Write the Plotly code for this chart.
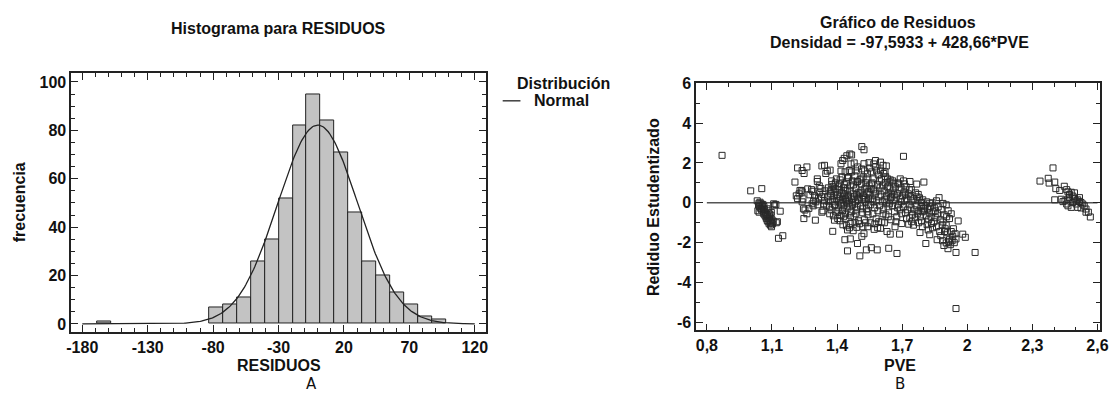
import math
import plotly.graph_objects as go

W, H = 1117, 394

# ---------------- Histogram of residuals ----------------
BIN_START = -168.3
BIN_WIDTH = 10.65
bin_counts = [1, 0, 0, 0, 0, 0, 0, 0, 7, 8, 11, 26, 35, 52, 82, 95, 84, 71,
              46, 26, 20, 13, 8, 3, 2]
resid_mean = 0.0
resid_sd = 30.5
hist_xticks = [-180, -130, -80, -30, 20, 70, 120]
hist_xticktext = ["-180", "-130", "-80", "-30", "20", "70", "120"]
hist_yticks = [0, 20, 40, 60, 80, 100]

# ---------------- Studentized residuals vs PVE ----------------
pve_res = [
    (0.870, 2.38),
    (1.002, 0.60), (1.053, 0.71), (1.032, 0.10), (1.040, -0.02), (1.045, 0.03),
    (1.050, -0.05), (1.038, -0.12), (1.043, -0.20), (1.048, -0.28), (1.035, -0.40),
    (1.041, -0.47), (1.052, -0.35), (1.055, -0.15), (1.058, -0.25), (1.060, -0.42),
    (1.062, -0.55), (1.065, -0.33), (1.067, -0.62), (1.070, -0.50), (1.072, -0.70),
    (1.074, -0.78), (1.076, -0.58), (1.078, -0.88), (1.080, -0.66), (1.082, -0.95),
    (1.085, -0.80), (1.087, -1.05), (1.089, -0.72), (1.091, -0.90), (1.093, -1.12),
    (1.095, -0.98), (1.098, -1.20), (1.100, -0.85), (1.103, -1.05), (1.106, -0.92),
    (1.108, -0.05), (1.112, -0.12), (1.118, -0.08), (1.120, -1.00), (1.125, -0.95),
    (1.138, -0.42), (1.130, -1.78), (1.150, -1.65), (1.058, -0.08), (1.063, -0.18),
    (1.083, -0.40), (1.077, -0.30), (1.088, -0.55), (1.095, -0.62), (1.097, -0.48),
    (1.206, 1.04), (1.218, 1.75), (1.212, 0.35), (1.218, 0.21), (1.225, 0.45),
    (1.229, 0.62), (1.239, 0.55), (1.239, 1.62), (1.248, 1.47), (1.239, 0.05),
    (1.245, -0.30), (1.252, -0.36), (1.247, -0.79), (1.235, 0.62), (1.243, 0.20),
    (1.261, 1.80), (1.261, -0.55), (1.270, -0.28), (1.282, 0.66), (1.288, 0.58),
    (1.292, 0.10), (1.300, -0.87), (1.296, 0.35), (1.275, 0.40), (1.285, -0.05),
    (1.265, 0.70), (1.290, -0.15),
    (1.302, 0.05), (1.309, 1.07), (1.309, 1.20), (1.320, 0.50), (1.330, 1.85),
    (1.330, -0.47), (1.335, 0.42), (1.342, 0.10), (1.342, 1.88), (1.348, 1.47),
    (1.315, 0.25), (1.325, 0.72), (1.338, -0.05), (1.345, 0.60), (1.312, -0.10),
    (1.328, 0.30), (1.335, -0.40), (1.318, 0.85),
    (1.355, 1.59), (1.368, 1.64), (1.373, 0.66), (1.376, 0.91), (1.380, -1.43),
    (1.388, -0.87), (1.358, 0.30), (1.362, 0.05), (1.365, -0.20), (1.370, 0.45),
    (1.372, -0.35), (1.378, 0.15), (1.382, 0.80), (1.385, 0.35), (1.388, -0.10),
    (1.390, 0.55), (1.392, 1.00), (1.395, -0.45), (1.398, 0.20), (1.360, 0.75),
    (1.366, -0.55), (1.375, 1.10), (1.383, -0.65), (1.394, 0.70), (1.352, -0.15),
    (1.397, 1.20), (1.386, 0.05), (1.368, 0.55),
    (1.403, -0.79), (1.418, 1.96), (1.426, 2.12), (1.433, 2.23), (1.445, 2.36),
    (1.418, 1.59), (1.448, 1.26), (1.433, 0.91), (1.418, -0.63), (1.436, -1.85),
    (1.448, -2.41), (1.448, -1.36), (1.402, 0.40), (1.405, 0.10), (1.408, -0.25),
    (1.410, 0.65), (1.412, 0.95), (1.415, 0.30), (1.420, -0.05), (1.422, 0.50),
    (1.425, -0.40), (1.428, 0.15), (1.430, 0.75), (1.432, -0.15), (1.435, 0.35),
    (1.438, -0.55), (1.440, 0.60), (1.442, 0.05), (1.444, 1.05), (1.446, -0.30),
    (1.449, 0.25), (1.413, -0.90), (1.423, 1.30), (1.427, -1.10), (1.437, 1.55),
    (1.441, -0.80), (1.407, 0.80), (1.417, 0.00), (1.431, 0.45), (1.439, 0.20),
    (1.443, -1.15), (1.447, 0.70), (1.404, -0.40), (1.414, 1.15), (1.429, -0.70),
    (1.459, 2.45), (1.467, 2.40), (1.456, 1.62), (1.494, 1.80), (1.461, -1.81),
    (1.494, -2.04), (1.491, -1.23), (1.461, -1.04), (1.452, 0.35), (1.455, 0.10),
    (1.458, -0.20), (1.460, 0.60), (1.463, 0.85), (1.465, -0.45), (1.468, 0.20),
    (1.470, 1.10), (1.472, -0.10), (1.475, 0.45), (1.478, -0.70), (1.480, 0.30),
    (1.482, 1.35), (1.485, 0.05), (1.487, 0.70), (1.489, -0.35), (1.492, 1.05),
    (1.494, 1.07), (1.496, 0.15), (1.498, -0.90), (1.453, 1.25), (1.457, -1.25),
    (1.466, 1.55), (1.474, -1.40), (1.483, -1.00), (1.488, 1.60), (1.497, 0.50),
    (1.462, -0.65), (1.476, 0.90), (1.486, -0.55), (1.451, -0.05), (1.471, 0.00),
    (1.493, -0.20), (1.479, 2.00), (1.464, 1.95), (1.490, 0.40),
    (1.505, -2.66), (1.514, 2.82), (1.524, 2.66), (1.524, 1.96), (1.547, 2.01),
    (1.514, -1.68), (1.524, -1.55), (1.535, -2.36), (1.541, -1.20), (1.502, 0.25),
    (1.505, 1.15), (1.508, -0.15), (1.510, 0.60), (1.512, 0.95), (1.515, 0.18),
    (1.518, -0.50), (1.520, 1.30), (1.522, 0.35), (1.524, 0.18), (1.526, -0.85),
    (1.528, 0.70), (1.530, 0.05), (1.533, 1.00), (1.535, -0.30), (1.538, 0.45),
    (1.540, 1.45), (1.543, -0.60), (1.545, 0.20), (1.548, 0.85), (1.503, -1.05),
    (1.513, 1.70), (1.519, -1.20), (1.527, 1.60), (1.532, -1.00), (1.537, 1.20),
    (1.546, -0.10), (1.549, 1.75), (1.506, 0.50), (1.516, -0.30), (1.529, 0.25),
    (1.539, -0.45), (1.544, 0.55), (1.511, 1.20), (1.534, 0.80),
    (1.558, -2.25), (1.577, 2.12), (1.585, -2.36), (1.571, -1.33), (1.552, 0.40),
    (1.555, -0.10), (1.558, 0.95), (1.560, 1.55), (1.563, 0.20), (1.565, -0.55),
    (1.568, 0.65), (1.570, 1.20), (1.573, -0.25), (1.575, 0.45), (1.578, 1.80),
    (1.580, -0.80), (1.583, 0.10), (1.586, 0.90), (1.588, -0.40), (1.590, 1.40),
    (1.593, 0.30), (1.596, -0.15), (1.598, 0.75), (1.553, -1.00), (1.562, 1.00),
    (1.574, -1.05), (1.582, 1.60), (1.592, -0.95), (1.566, 0.05), (1.579, 0.55),
    (1.595, 1.10), (1.557, 0.70), (1.587, -1.25), (1.569, 1.95),
    (1.600, 2.04), (1.612, 1.88), (1.627, 1.85), (1.600, 1.64), (1.615, 1.47),
    (1.624, 1.31), (1.645, 1.15), (1.638, -2.28), (1.645, -1.57), (1.630, -1.44),
    (1.600, -1.28), (1.606, -0.96), (1.603, 0.40), (1.608, 0.05), (1.610, 0.85),
    (1.613, -0.35), (1.617, 0.60), (1.620, 0.15), (1.622, 1.00), (1.625, -0.60),
    (1.628, 0.35), (1.632, 0.80), (1.635, -0.20), (1.638, 0.50), (1.640, 1.05),
    (1.642, -0.05), (1.646, 0.25), (1.648, -0.85), (1.605, 1.20), (1.618, -1.00),
    (1.633, 1.20), (1.644, 0.70), (1.612, -0.55), (1.627, 0.00), (1.636, -0.70),
    (1.649, 0.45), (1.621, 1.55),
    (1.661, 0.99), (1.691, 1.20), (1.676, -2.54), (1.688, -1.57), (1.667, -1.20),
    (1.698, -1.04), (1.652, 0.30), (1.655, -0.15), (1.658, 0.60), (1.662, 0.10),
    (1.665, -0.45), (1.668, 0.80), (1.672, 0.25), (1.675, -0.70), (1.678, 0.45),
    (1.680, 1.00), (1.683, -0.10), (1.686, 0.65), (1.690, -0.35), (1.693, 0.20),
    (1.695, 0.75), (1.698, -0.55), (1.656, 1.10), (1.671, -0.95), (1.685, 0.95),
    (1.696, 0.05), (1.663, 0.40), (1.679, -0.25),
    (1.706, 2.33), (1.706, 1.10), (1.736, 1.07), (1.742, 0.66), (1.730, -1.07),
    (1.702, 0.35), (1.705, -0.20), (1.709, 0.55), (1.712, 0.10), (1.715, -0.50),
    (1.718, 0.80), (1.722, 0.20), (1.725, -0.35), (1.728, 0.45), (1.732, -0.10),
    (1.735, -0.75), (1.738, 0.30), (1.741, -0.25), (1.745, 0.10), (1.748, -0.60),
    (1.710, 0.95), (1.720, -0.80), (1.733, 0.65), (1.744, -0.95), (1.716, 0.40),
    (1.767, 0.94), (1.752, -1.12), (1.774, 0.42), (1.789, 0.02), (1.789, -0.91),
    (1.782, -1.49), (1.800, 1.04), (1.755, 0.20), (1.758, -0.35), (1.762, 0.50),
    (1.765, -0.15), (1.770, -0.55), (1.773, 0.10), (1.777, -0.40), (1.780, 0.25),
    (1.784, -0.70), (1.787, -0.20), (1.792, -0.45), (1.795, 0.15), (1.798, -0.30),
    (1.760, -0.75), (1.776, -1.00), (1.793, -1.20), (1.768, 0.30),
    (1.827, -0.02), (1.809, -2.04), (1.827, -1.60), (1.820, -1.36), (1.835, -1.04),
    (1.803, -0.40), (1.806, -0.15), (1.810, -0.65), (1.813, 0.05), (1.817, -0.30),
    (1.822, -0.85), (1.825, -0.50), (1.830, -0.20), (1.833, -0.70), (1.838, 0.00),
    (1.842, -0.45), (1.846, -0.95), (1.848, -0.25), (1.815, -1.10), (1.840, -1.25),
    (1.858, 0.10), (1.870, 0.26), (1.888, -0.03), (1.888, -0.96), (1.873, -1.44),
    (1.895, -1.44), (1.892, -2.14), (1.861, -1.85), (1.858, -1.20), (1.852, -0.40),
    (1.855, -0.75), (1.863, -0.55), (1.866, -0.20), (1.876, -0.85), (1.880, -0.35),
    (1.884, -1.10), (1.893, -0.60), (1.898, -1.30), (1.878, -1.65), (1.886, -1.90),
    (1.903, -0.10), (1.926, -0.55), (1.918, -0.79), (1.958, -0.91), (1.903, -1.12),
    (1.926, -1.44), (1.933, -1.68), (1.948, -1.81), (1.918, -1.85), (1.903, -2.01),
    (1.911, -2.30), (1.948, -2.49), (1.979, -1.57), (1.991, -1.73), (2.036, -2.49),
    (1.948, -5.30), (1.908, -1.50), (1.915, -1.95), (1.922, -2.10), (1.930, -1.90),
    (1.940, -2.00), (1.912, -0.40), (1.936, -1.30), (1.944, -1.55), (1.905, -0.70),
    (2.335, 1.09), (2.373, 1.23), (2.377, 0.99), (2.395, 1.75), (2.403, 1.04),
    (2.408, 0.71), (2.403, 0.15), (2.426, 0.62), (2.447, 0.83), (2.458, 0.66),
    (2.464, 0.55), (2.471, 0.42), (2.479, 0.53), (2.486, 0.34), (2.494, 0.23),
    (2.502, 0.10), (2.509, 0.15), (2.517, 0.26), (2.524, 0.02), (2.532, -0.06),
    (2.539, -0.15), (2.547, -0.47), (2.558, -0.47), (2.567, -0.71), (2.450, 0.10),
    (2.458, -0.06), (2.464, -0.15), (2.479, -0.23), (2.464, 0.18), (2.486, 0.02),
    (2.502, -0.06), (2.509, -0.23), (2.524, -0.26), (2.441, 0.06), (2.433, 0.18),
    (2.471, 0.26), (2.494, 0.50), (2.517, 0.06), (2.547, -0.31),
]
pve = [p[0] for p in pve_res]
stud_res = [p[1] for p in pve_res]
PVE_MIN, PVE_MAX = 0.8, 2.6
pve_tickvals = [0.8, 1.1, 1.4, 1.7, 2.0, 2.3, 2.6]
pve_ticktext = ["0,8", "1,1", "1,4", "1,7", "2", "2,3", "2,6"]
res_tickvals = [-6, -4, -2, 0, 2, 4, 6]
res_ticktext = ["-6", "-4", "-2", "0", "2", "4", "6"]

INK = "#222222"
FONT = "Liberation Sans, Arial, sans-serif"


def px_x(p):
    return p / W


def px_y(p):
    return 1 - p / H


fig = go.Figure()

# histogram bars
centers = []
heights = []
for k, c in enumerate(bin_counts):
    if c > 0:
        centers.append(BIN_START + (k + 0.5) * BIN_WIDTH)
        heights.append(c)
fig.add_trace(go.Bar(
    x=centers, y=heights, width=BIN_WIDTH,
    marker=dict(color="#c3c3c3", line=dict(color=INK, width=1)),
    xaxis="x", yaxis="y", showlegend=False,
))

# fitted normal density scaled to counts
n_obs = sum(bin_counts)
curve_x = []
curve_y = []
steps = 300
lo, hi = hist_xticks[0], hist_xticks[-1]
for i in range(steps + 1):
    xv = lo + (hi - lo) * i / steps
    z = (xv - resid_mean) / resid_sd
    curve_x.append(xv)
    curve_y.append(n_obs * BIN_WIDTH * math.exp(-0.5 * z * z) /
                   (resid_sd * math.sqrt(2 * math.pi)))
fig.add_trace(go.Scatter(
    x=curve_x, y=curve_y, mode="lines",
    line=dict(color=INK, width=1.3),
    xaxis="x", yaxis="y", showlegend=False,
))

# zero reference line for residual plot
fig.add_trace(go.Scatter(
    x=[PVE_MIN, PVE_MAX], y=[0, 0], mode="lines",
    line=dict(color="#555555", width=1.5),
    xaxis="x2", yaxis="y2", showlegend=False,
))
fig.add_trace(go.Scatter(
    x=pve, y=stud_res, mode="markers",
    marker=dict(symbol="square-open", size=6, color="#2a2a2a",
                line=dict(width=1, color="#2a2a2a")),
    xaxis="x2", yaxis="y2", showlegend=False,
))

tickfont = dict(family=FONT, size=16, color="#111111", weight="bold")
axis_common = dict(
    showline=True, linecolor=INK, linewidth=1.5, mirror="ticks",
    ticks="inside", ticklen=7, tickwidth=1.2, tickcolor=INK,
    showgrid=False, zeroline=False, tickfont=tickfont,
)

fig.update_layout(
    width=W, height=H,
    margin=dict(l=0, r=0, t=0, b=0),
    paper_bgcolor="white", plot_bgcolor="white",
    bargap=0,
    xaxis=dict(
        domain=[px_x(67), px_x(487)], range=[-188.5, 128.5], anchor="y",
        tickvals=hist_xticks, ticktext=hist_xticktext,
        minor=dict(ticks="inside", ticklen=4, dtick=10, tick0=-180,
                   tickcolor=INK, tickwidth=1),
        **axis_common,
    ),
    yaxis=dict(
        domain=[px_y(331.5), px_y(67)], range=[-3.3, 103.5], anchor="x",
        tickvals=hist_yticks,
        minor=dict(ticks="inside", ticklen=4, dtick=5, tick0=0,
                   tickcolor=INK, tickwidth=1),
        **axis_common,
    ),
    xaxis2=dict(
        domain=[px_x(700), px_x(1109)], range=[0.751, 2.612], anchor="y2",
        tickvals=pve_tickvals, ticktext=pve_ticktext,
        minor=dict(ticks="inside", ticklen=4, dtick=0.1, tick0=0.8,
                   tickcolor=INK, tickwidth=1),
        **axis_common,
    ),
    yaxis2=dict(
        domain=[px_y(330), px_y(76.5)], range=[-6.4, 6.02], anchor="x2",
        tickvals=res_tickvals, ticktext=res_ticktext,
        minor=dict(ticks="inside", ticklen=4, dtick=1, tick0=0,
                   tickcolor=INK, tickwidth=1),
        **axis_common,
    ),
)

bold = dict(family=FONT, color="#111111", weight="bold")


def label(text, x, y, size=16, angle=0, xanchor="center", font=None):
    f = dict(bold) if font is None else dict(font)
    f["size"] = size
    fig.add_annotation(
        text=text, x=px_x(x), y=px_y(y), xref="paper", yref="paper",
        showarrow=False, xanchor=xanchor, yanchor="middle",
        textangle=angle, font=f,
    )


label("Histograma para RESIDUOS", 277, 21)
label("frecuencia", 15, 199, angle=-90)
label("RESIDUOS", 277, 366)
label("Distribución", 516, 77, xanchor="left")
label("Normal", 534, 95, xanchor="left")
fig.add_shape(type="line", xref="paper", yref="paper",
              x0=px_x(504), x1=px_x(522), y0=px_y(95), y1=px_y(95),
              line=dict(color=INK, width=1.3))

label("Gráfico de Residuos", 904, 15)
label("Densidad = -97,5933 + 428,66*PVE", 906, 35)
label("Rediduo Estudentizado", 657, 204, angle=-90)
label("PVE", 906, 366)

plain = dict(family="DejaVu Sans, sans-serif", color="#111111")
label("A", 310, 385, size=15, font=plain)
label("B", 906, 385, size=15, font=plain)

fig.write_html("out.html")
